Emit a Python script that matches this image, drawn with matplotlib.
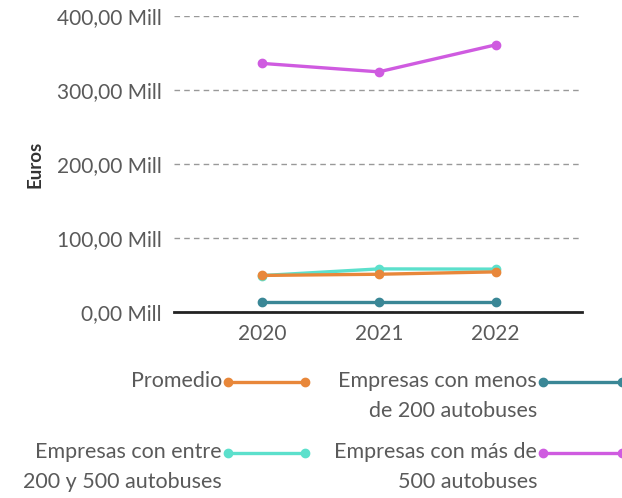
import matplotlib.pyplot as plt
from matplotlib.lines import Line2D

years = ['2020', '2021', '2022']
promedio = [50.0, 51.6, 54.8]
menos_200 = [13.9, 13.9, 13.9]
entre_200_500 = [49.8, 58.8, 58.5]
mas_500 = [336.0, 324.6, 361.0]

series_names = ['Promedio', 'Empresas con menos\nde 200 autobuses',
                'Empresas con entre\n200 y 500 autobuses', 'Empresas con más de\n500 autobuses']
colors = ['#E8873A', '#3A8796', '#5CE0CC', '#CF5BE0']
yticks = [0, 100, 200, 300, 400]
ytick_labels = ['0,00 Mill', '100,00 Mill', '200,00 Mill', '300,00 Mill', '400,00 Mill']

plt.rcParams['font.family'] = ['Lato', 'DejaVu Sans']
text_color = '#5a5a5a'

fig = plt.figure(figsize=(6.22, 4.98), dpi=100)
ax = fig.add_axes([0.28, 0.3725, 0.656, 0.5955])

x = list(range(len(years)))
all_series = [promedio, menos_200, entre_200_500, mas_500]
# draw order: dark teal, light teal, orange on top, purple
for idx in [1, 2, 0, 3]:
    ax.plot(x, all_series[idx], color=colors[idx], lw=2.4, marker='o', ms=6, zorder=3)

ax.set_xlim(-0.75, 2.74)
ax.set_ylim(0, 400)
ax.set_yticks(yticks)
ax.set_yticklabels(ytick_labels)
ax.set_xticks(x)
ax.set_xticklabels(years)
ax.tick_params(axis='both', length=0, labelsize=15, labelcolor=text_color)
ax.tick_params(axis='y', pad=9)
ax.tick_params(axis='x', pad=8)

ax.grid(axis='y', color='#999999', linestyle=(0, (4, 3)), lw=1)
ax.set_axisbelow(True)
for s in ['top', 'right', 'left']:
    ax.spines[s].set_visible(False)
ax.spines['bottom'].set_color('#222222')
ax.spines['bottom'].set_linewidth(2)
ax.spines['bottom'].set_zorder(4)

fig.text(0.057, 0.67, 'Euros', rotation=90, ha='center', va='center',
         fontsize=13.5, fontweight='bold', color='#333333')

# legend drawn by hand: text on the left, line handle on the right
W, H = 622, 498
entries = [(0, 382, 222, 228, 305), (1, 382, 537, 543, 622),
           (2, 453, 222, 228, 305), (3, 453, 537, 543, 622)]
for idx, ypx, tx, x0, x1 in entries:
    yf = 1 - ypx / H
    fig.text(tx / W, 1 - (ypx - 11) / H, series_names[idx], ha='right', va='top',
             multialignment='right', fontsize=15.5, color=text_color, linespacing=1.6)
    fig.add_artist(Line2D([x0 / W, x1 / W], [yf, yf], transform=fig.transFigure,
                          color=colors[idx], lw=2.4, marker='o', ms=6))

fig.savefig('out.png', dpi=100)
